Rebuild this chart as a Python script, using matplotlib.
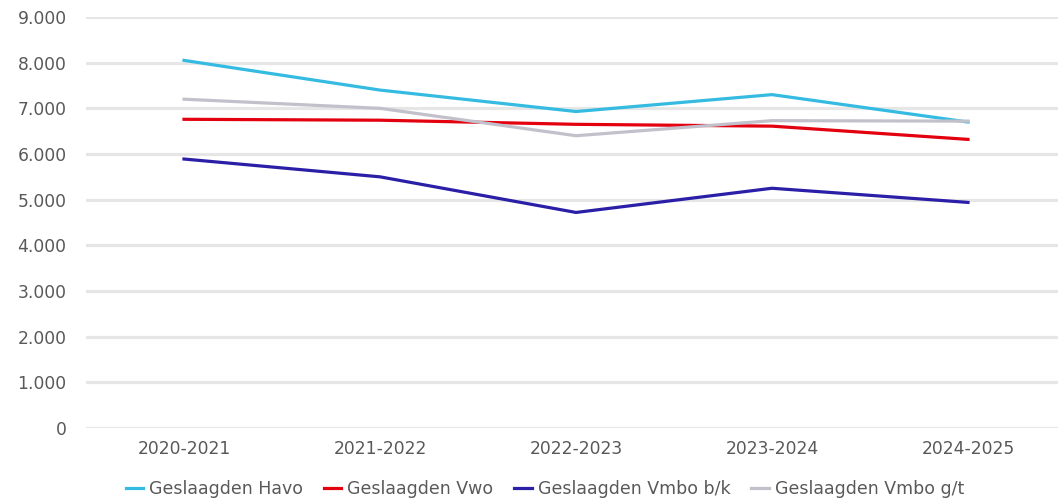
import matplotlib.pyplot as plt
from matplotlib.ticker import FuncFormatter

jaren = ['2020-2021', '2021-2022', '2022-2023', '2023-2024', '2024-2025']
havo = [8050, 7400, 6930, 7300, 6700]
vwo = [6760, 6740, 6650, 6610, 6320]
vmbo_bk = [5890, 5500, 4720, 5250, 4940]
vmbo_gt = [7200, 7000, 6400, 6730, 6720]

plt.rcParams['font.family'] = ['DejaVu Sans']

fig = plt.figure(figsize=(10.58, 4.99), dpi=100)
ax = fig.add_axes([86 / 1058, 1 - 428 / 499, (1066 - 86) / 1058, (428 - 17) / 499])

x = range(len(jaren))
ax.plot(x, havo, color='#35bbe2', lw=2.3, label='Geslaagden Havo', zorder=3)
ax.plot(x, vwo, color='#e3000f', lw=2.3, label='Geslaagden Vwo', zorder=3)
ax.plot(x, vmbo_bk, color='#2a1fa6', lw=2.3, label='Geslaagden Vmbo b/k', zorder=3)
ax.plot(x, vmbo_gt, color='#c2c1cb', lw=2.3, label='Geslaagden Vmbo g/t', zorder=3)

ax.set_xlim(-0.5, 4.5)
ax.set_ylim(0, 9000)
ax.set_yticks(range(0, 9001, 1000))
ax.yaxis.set_major_formatter(FuncFormatter(lambda v, p: f'{int(v):,}'.replace(',', '.')))
ax.set_xticks(list(x))
ax.set_xticklabels(jaren)
ax.grid(axis='y', color='#e6e6e6', lw=2.3, zorder=0)
for s in ax.spines.values():
    s.set_visible(False)
ax.tick_params(length=0, labelsize=12.3, labelcolor='#595959')
ax.tick_params(axis='y', pad=14)
ax.tick_params(axis='x', pad=9)

leg = fig.legend(loc='center', bbox_to_anchor=(0.515, 0.02), ncol=4, frameon=False,
                 fontsize=12.5, handlelength=1.0, handletextpad=0.35, columnspacing=1.2)
for t in leg.get_texts():
    t.set_color('#595959')

fig.savefig('out.png', dpi=100)
